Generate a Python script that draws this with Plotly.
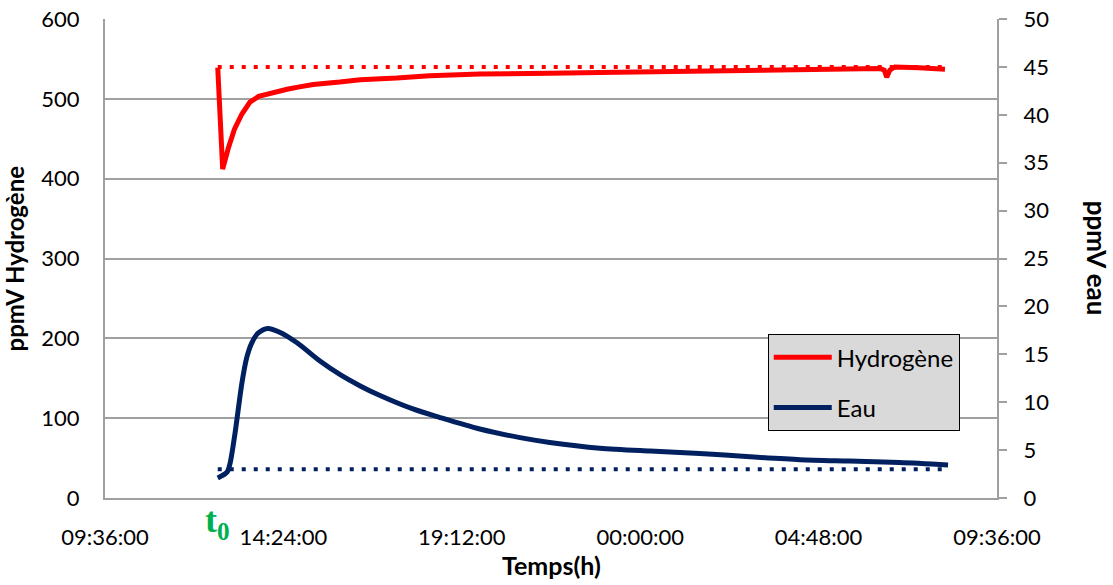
import plotly.graph_objects as go

# --- data ---
h2_time = ["2013-01-01 12:38", "2013-01-01 12:46", "2013-01-01 12:55", "2013-01-01 13:05",
           "2013-01-01 13:17", "2013-01-01 13:24", "2013-01-01 13:30", "2013-01-01 13:44",
           "2013-01-01 14:02", "2013-01-01 14:30", "2013-01-01 14:50", "2013-01-01 15:12",
           "2013-01-01 15:55", "2013-01-01 16:28", "2013-01-01 17:27", "2013-01-01 18:20",
           "2013-01-01 19:41", "2013-01-01 20:30", "2013-01-01 21:34", "2013-01-01 22:55",
           "2013-01-02 00:16", "2013-01-02 01:36", "2013-01-02 02:57", "2013-01-02 04:18",
           "2013-01-02 05:38", "2013-01-02 06:27", "2013-01-02 06:34", "2013-01-02 06:38",
           "2013-01-02 06:43", "2013-01-02 06:51", "2013-01-02 07:30", "2013-01-02 08:12"]
h2_ppm = [539, 412, 438, 462, 481, 490, 496, 503, 507, 512, 515, 518, 521, 524, 526, 529,
          531, 531, 532, 533, 534, 535, 536, 537, 538, 538, 536, 527, 536, 540, 539, 537]

eau_time = ["2013-01-01 12:38", "2013-01-01 12:53", "2013-01-01 12:58", "2013-01-01 13:06",
            "2013-01-01 13:17", "2013-01-01 13:25", "2013-01-01 13:33", "2013-01-01 13:43",
            "2013-01-01 13:59", "2013-01-01 14:18", "2013-01-01 14:46", "2013-01-01 15:23",
            "2013-01-01 15:55", "2013-01-01 16:28", "2013-01-01 17:00", "2013-01-01 17:53",
            "2013-01-01 18:37", "2013-01-01 19:41", "2013-01-01 20:46", "2013-01-01 21:34",
            "2013-01-01 22:55", "2013-01-02 00:16", "2013-01-02 01:36", "2013-01-02 02:57",
            "2013-01-02 04:18", "2013-01-02 05:38", "2013-01-02 06:59", "2013-01-02 08:17"]
eau_ppm = [2.1, 2.7, 3.65, 6.8, 12.0, 14.7, 16.2, 17.2, 17.7, 17.3, 16.2, 14.3, 12.9, 11.7,
           10.7, 9.3, 8.4, 7.2, 6.3, 5.8, 5.2, 4.9, 4.65, 4.3, 4.0, 3.85, 3.7, 3.45]

ref_time = ["2013-01-01 12:38", "2013-01-02 08:12"]
h2_ref = [540, 540]
eau_ref = [3, 3]

x_ticks = ["2013-01-01 09:36", "2013-01-01 14:24", "2013-01-01 19:12",
           "2013-01-02 00:00", "2013-01-02 04:48", "2013-01-02 09:36"]

RED = "#ff0000"
NAVY = "#002060"
GRID = "#a0a0a0"
FONT = "Lato"

fig = go.Figure()
fig.add_trace(go.Scatter(x=ref_time, y=h2_ref, mode="lines", showlegend=False,
                         line=dict(color=RED, width=4, dash="4px,8px"), yaxis="y"))
fig.add_trace(go.Scatter(x=ref_time, y=eau_ref, mode="lines", showlegend=False,
                         line=dict(color=NAVY, width=4, dash="4px,8px"), yaxis="y2"))
fig.add_trace(go.Scatter(x=h2_time, y=h2_ppm, mode="lines", name="Hydrogène",
                         legendgroup="a", line=dict(color=RED, width=5), yaxis="y"))
fig.add_trace(go.Scatter(x=eau_time, y=eau_ppm, mode="lines", name="Eau",
                         legendgroup="b", line=dict(color=NAVY, width=5, shape="spline",
                                                    smoothing=0.8),
                         yaxis="y2"))

fig.update_layout(
    width=1113, height=585,
    margin=dict(l=105, r=116, t=19, b=87, autoexpand=False),
    paper_bgcolor="white", plot_bgcolor="white",
    font=dict(family=FONT, size=22, color="black"),
    xaxis=dict(type="date", range=["2013-01-01 09:36", "2013-01-02 09:36"],
               tickvals=x_ticks, tickformat="%H:%M:%S", showgrid=False,
               showline=True, linecolor=GRID, linewidth=2, ticks="",
               ticklabelstandoff=19, zeroline=False, automargin=False,
               ticklabeloverflow="allow"),
    yaxis=dict(range=[0, 600], dtick=100, showgrid=True, gridcolor=GRID, gridwidth=1.5,
               showline=True, linecolor=GRID, linewidth=2, ticks="", zeroline=False,
               ticklabelstandoff=19, automargin=False, ticklabeloverflow="allow"),
    yaxis2=dict(range=[0, 50], dtick=5, overlaying="y", side="right", showgrid=False,
                showline=True, linecolor=GRID, linewidth=2, ticks="outside", ticklen=8,
                tickcolor=GRID, tickwidth=2, zeroline=False, ticklabelstandoff=12,
                automargin=False, ticklabeloverflow="allow"),
    legend=dict(x=0.743, y=0.342, xanchor="left", yanchor="top",
                bgcolor="#d9d9d9", bordercolor="black", borderwidth=1,
                font=dict(size=24, family=FONT), tracegroupgap=16, itemwidth=58),
    annotations=[
        dict(text="<b>ppmV Hydrogène</b>", textangle=-90, xref="paper", yref="paper",
             x=-0.101, y=0.5, showarrow=False, font=dict(size=24),
             xanchor="center", yanchor="middle"),
        dict(text="<b>ppmV eau</b>", textangle=90, xref="paper", yref="paper",
             x=1.113, y=0.5, showarrow=False, font=dict(size=26),
             xanchor="center", yanchor="middle"),
        dict(text="<b>Temps(h)</b>", xref="paper", yref="paper",
             x=0.5, y=-0.14, showarrow=False, font=dict(size=25),
             xanchor="center", yanchor="middle"),
        dict(text="<b>t<sub>0</sub></b>", xref="x", yref="paper",
             x="2013-01-01 12:38", y=0.0, yanchor="top", showarrow=False,
             font=dict(family="Liberation Serif", size=36, color="#00b050")),
    ],
)

fig.write_html("out.html", config={"displayModeBar": False},
               post_script="document.body.style.margin='0';")
